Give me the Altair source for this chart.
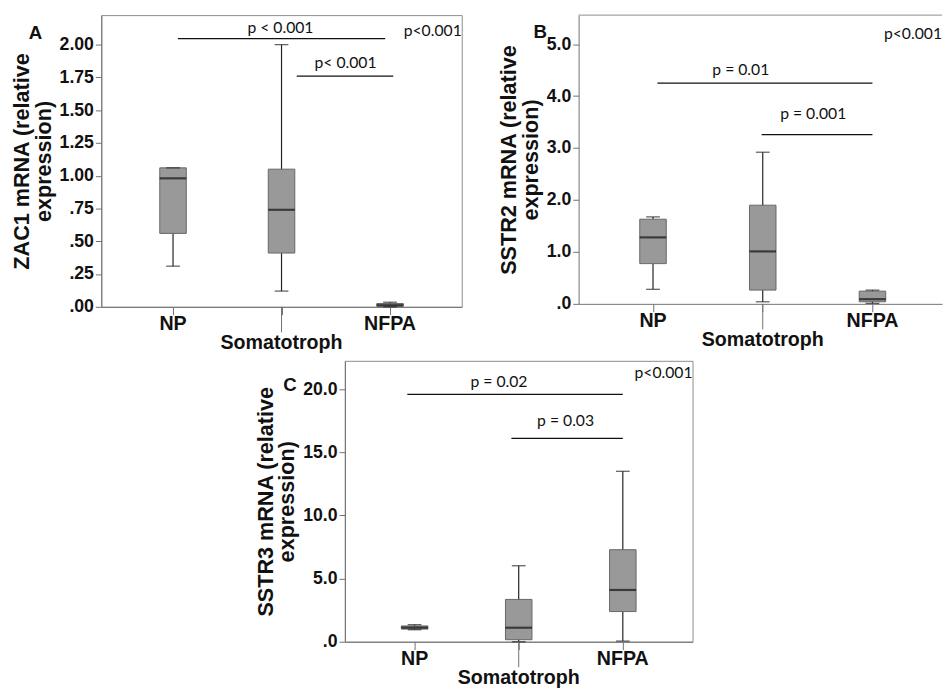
import altair as alt
import pandas as pd

groups = ["NP", "Somatotroph", "NFPA"]
group_pos = [0, 1, 2]

# Panel A: ZAC1 (box statistics)
zac1_min = [0.31, 0.12, 0.00]
zac1_q1 = [0.56, 0.41, 0.004]
zac1_med = [0.98, 0.74, 0.012]
zac1_q3 = [1.06, 1.05, 0.025]
zac1_max = [1.06, 2.00, 0.035]

# Panel B: SSTR2
sstr2_min = [0.28, 0.04, 0.01]
sstr2_q1 = [0.775, 0.265, 0.04]
sstr2_med = [1.28, 1.01, 0.09]
sstr2_q3 = [1.63, 1.90, 0.245]
sstr2_max = [1.675, 2.92, 0.265]

# Panel C: SSTR3
sstr3_min = [0.95, 0.00, 0.05]
sstr3_q1 = [1.00, 0.16, 2.39]
sstr3_med = [1.12, 1.11, 4.10]
sstr3_q3 = [1.25, 3.35, 7.29]
sstr3_max = [1.35, 6.02, 13.50]

# significance brackets (category-index span, level in data units, text)
a_br_from = [0.045, 1.14]
a_br_to = [1.955, 2.03]
a_br_level = [2.045, 1.76]
a_br_text = ["p < 0.001", "p< 0.001"]
a_br_text_x = [0.99, 1.59]
a_br_text_y = [2.125, 1.86]

b_br_from = [0.04, 0.99]
b_br_to = [2.0, 2.0]
b_br_level = [4.25, 3.26]
b_br_text = ["p = 0.01", "p = 0.001"]
b_br_text_x = [0.80, 1.46]
b_br_text_y = [4.50, 3.65]

c_br_from = [-0.07, 0.93]
c_br_to = [2.0, 2.0]
c_br_level = [19.6, 16.1]
c_br_text = ["p = 0.02", "p = 0.03"]
c_br_text_x = [0.81, 1.45]
c_br_text_y = [20.6, 17.5]

overall_text = "p<0.001"

FRAME = "#8c8c8c"
AXIS = "#707070"
BOX_FILL = "#999999"
BOX_STROKE = "#666666"
INK = "#111111"
NUM_FONT = "Liberation Sans"
P_FONT = "Lato"


def build_panel(letter, title_lines, stats, ydomain, yticks, decimals,
                br_from, br_to, br_level, br_text, br_text_x, br_text_y,
                corner_y, width, height, xdomain, letter_dx, letter_dy,
                frame_right=True):
    mins, q1s, meds, q3s, maxs = stats
    box_df = pd.DataFrame({"pos": group_pos, "group": groups, "lo": mins,
                           "q1": q1s, "med": meds, "q3": q3s, "hi": maxs})
    br_df = pd.DataFrame({"x1": br_from, "x2": br_to, "y": br_level})
    lab_df = pd.DataFrame({"x": br_text_x, "y": br_text_y, "t": br_text})
    corner_df = pd.DataFrame({"x": [xdomain[1]], "y": [corner_y], "t": [overall_text]})
    one_df = pd.DataFrame({"t": [letter]})

    xscale = alt.Scale(domain=xdomain, nice=False, zero=False, padding=0)
    yscale = alt.Scale(domain=ydomain, nice=False, zero=False, padding=0)
    fmt = f".{decimals}f"
    label_expr = (f"datum.value < 1 ? slice(format(datum.value, '{fmt}'), 1) "
                  f": format(datum.value, '{fmt}')")
    xaxis = alt.Axis(values=group_pos, labels=False, ticks=True, tickSize=8,
                     tickColor=AXIS, tickWidth=1, domainColor=AXIS, domainWidth=1,
                     grid=False, title=None)
    yaxis = alt.Axis(values=yticks, labelExpr=label_expr, labelFont=NUM_FONT,
                     labelFontSize=18, labelFontWeight="bold", labelColor=INK,
                     labelPadding=2, tickSize=6, tickColor=AXIS, tickWidth=1,
                     domainColor=AXIS, domainWidth=1, grid=False,
                     title=title_lines, titleFont=NUM_FONT, titleFontSize=22,
                     titleFontWeight="bold", titleColor=INK, titleLineHeight=22,
                     titlePadding=4)

    def X(f):
        return alt.X(f, type="quantitative", scale=xscale, axis=xaxis)

    def Y(f):
        return alt.Y(f, type="quantitative", scale=yscale, axis=yaxis)

    base = alt.Chart(box_df)
    whisk = base.mark_rule(color="#222222", strokeWidth=1.2).encode(
        x=X("pos"), y=Y("lo"), y2="hi")
    cap_lo = base.mark_tick(orient="horizontal", size=14, thickness=1.3,
                            color="#222222").encode(x=X("pos"), y=Y("lo"))
    cap_hi = base.mark_tick(orient="horizontal", size=14, thickness=1.3,
                            color="#222222").encode(x=X("pos"), y=Y("hi"))
    box = base.mark_bar(width=27, color=BOX_FILL, stroke=BOX_STROKE,
                        strokeWidth=1).encode(x=X("pos"), y=Y("q1"), y2="q3")
    med = base.mark_tick(orient="horizontal", size=27, thickness=2.2,
                         color=INK).encode(x=X("pos"), y=Y("med"))
    brk = alt.Chart(br_df).mark_rule(color=INK, strokeWidth=1.3).encode(
        x=X("x1"), x2="x2", y=Y("y"))
    brk_t = alt.Chart(lab_df).mark_text(font=P_FONT, fontSize=16, color=INK,
                                        baseline="middle").encode(
        x=X("x"), y=Y("y"), text="t:N")
    corner = alt.Chart(corner_df).mark_text(font=P_FONT, fontSize=16, color=INK,
                                            align="right", baseline="middle").encode(
        x=X("x"), y=Y("y"), text="t:N")
    let = alt.Chart(one_df).mark_text(font=NUM_FONT, fontSize=19, fontWeight="bold",
                                      color=INK, baseline="middle").encode(
        x=alt.value(letter_dx), y=alt.value(letter_dy), text="t:N")
    xl_side = base.transform_filter(alt.datum.group != "Somatotroph").mark_text(
        font=NUM_FONT, fontSize=20, fontWeight="bold", color=INK,
        baseline="middle").encode(x=X("pos"), y=alt.value(height + 18), text="group:N")
    xl_mid = base.transform_filter(alt.datum.group == "Somatotroph").mark_text(
        font=NUM_FONT, fontSize=20, fontWeight="bold", color=INK,
        baseline="middle").encode(x=X("pos"), y=alt.value(height + 37), text="group:N")
    long_tick = base.transform_filter(alt.datum.group == "Somatotroph").mark_rule(
        color=AXIS, strokeWidth=1).encode(x=X("pos"), y=alt.value(height),
                                          y2=alt.value(height + 26))
    layers = [whisk, box, cap_lo, cap_hi, med, brk, brk_t, corner, let,
              xl_side, xl_mid, long_tick]
    if not frame_right:
        top = alt.Chart(one_df).mark_rule(color=FRAME, strokeWidth=1).encode(
            x=alt.value(0), x2=alt.value(width), y=alt.value(0))
        layers.append(top)
    return alt.layer(*layers).properties(
        width=width, height=height,
        view=alt.ViewBackground(stroke=FRAME if frame_right else "transparent"))


A = build_panel("A", ["ZAC1 mRNA (relative", "expression)"],
                (zac1_min, zac1_q1, zac1_med, zac1_q3, zac1_max),
                [0, 2.225], [0, 0.25, 0.5, 0.75, 1.0, 1.25, 1.5, 1.75, 2.0], 2,
                a_br_from, a_br_to, a_br_level, a_br_text, a_br_text_x, a_br_text_y,
                2.10, 367, 297, [-0.661, 2.661], -67, 18)

B = build_panel("B", ["SSTR2 mRNA (relative", "expression)"],
                (sstr2_min, sstr2_q1, sstr2_med, sstr2_q3, sstr2_max),
                [0, 5.56], [0, 1, 2, 3, 4, 5], 1,
                b_br_from, b_br_to, b_br_level, b_br_text, b_br_text_x, b_br_text_y,
                5.20, 370, 294, [-0.678, 2.634], -39, 17, frame_right=False)

C = build_panel("C", ["SSTR3 mRNA (relative", "expression)"],
                (sstr3_min, sstr3_q1, sstr3_med, sstr3_q3, sstr3_max),
                [0, 22.25], [0, 5, 10, 15, 20], 1,
                c_br_from, c_br_to, c_br_level, c_br_text, c_br_text_x, c_br_text_y,
                21.25, 354, 286, [-0.67, 2.67], -56, 25)

spacer = alt.Chart(pd.DataFrame({"v": [0]})).mark_point(opacity=0).encode(
    x=alt.value(0), y=alt.value(0)).properties(
    width=154, height=10, view=alt.ViewBackground(stroke="transparent"))

row1 = alt.hconcat(A, B, spacing=35)
row2 = alt.hconcat(spacer, C, spacing=0)
chart = alt.vconcat(row1, row2, spacing=3).properties(
    padding={"left": 2, "top": 0, "right": 0, "bottom": 0},
    background="white",
).configure_view(stroke=FRAME)

chart.save("out.html", embed_options={"renderer": "svg", "actions": False})
